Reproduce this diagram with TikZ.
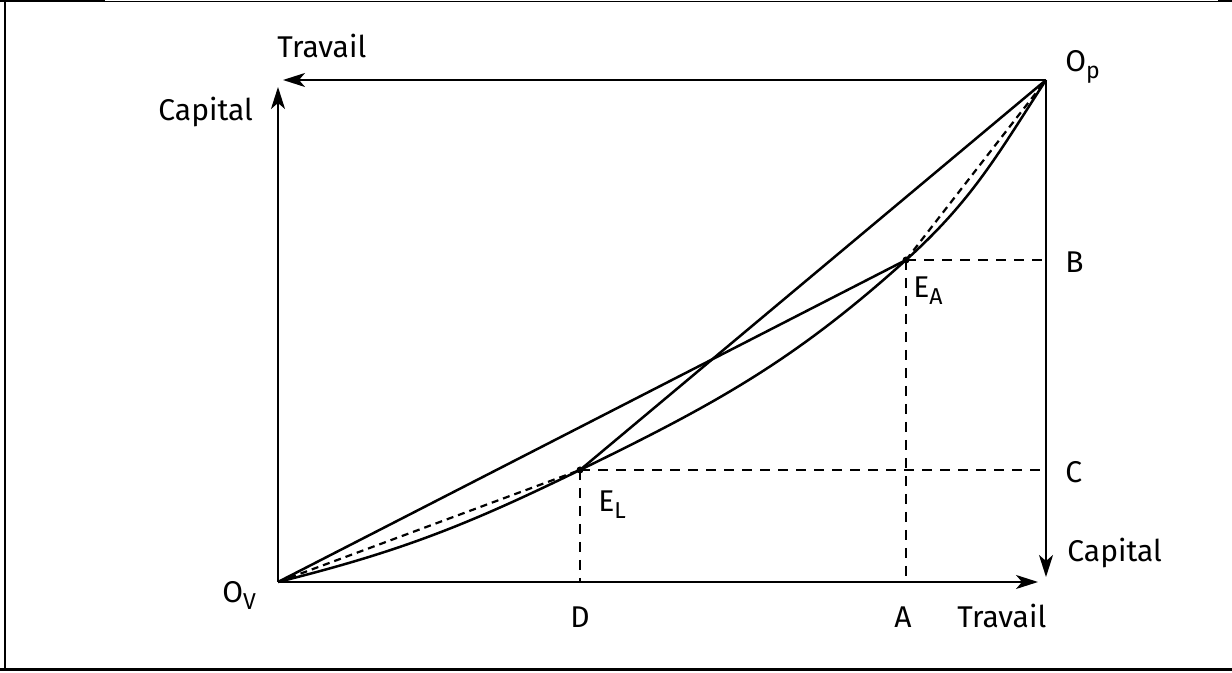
\documentclass[tikz,border=0pt]{standalone}
\usepackage{fontspec}
\setmainfont{Fira Sans}
\usetikzlibrary{arrows.meta}
\newcommand{\mysub}[1]{\raisebox{-0.4ex}{\fontsize{11.5}{11.5}\selectfont #1}}
\begin{document}
\begin{tikzpicture}[x=0.5pt,y=0.5pt,
  axis/.style={line width=1pt,-{Stealth[length=11pt,width=7pt,inset=3pt]}},
  curveline/.style={line width=1.25pt},
  guide/.style={line width=0.9pt,dash pattern=on 5pt off 4pt},
  chord/.style={line width=1.1pt,dash pattern=on 3.5pt off 2.5pt},
  dot/.style={circle,fill=black,inner sep=0pt,minimum size=3.5pt},
  lbl/.style={font=\fontsize{15}{18}\selectfont,inner sep=0pt}]
\useasboundingbox (0,0) rectangle (1232,673);
% frame
\draw[line width=1pt] (5,673) -- (5,2);
\draw[line width=0.5pt] (0,671.5) -- (1232,671.5);
\draw[line width=1.5pt] (0,672.2) -- (105,672.2);
\draw[line width=1.5pt] (1218,672.2) -- (1232,672.2);
\draw[line width=1.5pt] (0,3) -- (1232,3);
% points
\coordinate (Ov) at (278,91);
\coordinate (Op) at (1046,593);
\coordinate (EA) at (906,413);
\coordinate (EL) at (580,203);
\coordinate (B) at (1046,413);
\coordinate (C) at (1046,203);
\coordinate (A) at (906,91);
\coordinate (D) at (580,91);
\coordinate (xT) at (1038,91);
\coordinate (yR) at (1046,96);
\coordinate (xTop) at (283,593);
\coordinate (yL) at (278,586);
% axes
\draw[axis] (Ov) -- (xT);
\draw[axis] (Ov) -- (yL);
\draw[axis] (Op) -- (xTop);
\draw[axis] (Op) -- (yR);
% guides
\draw[guide] (EA) -- (B);
\draw[guide] (EA) -- (A);
\draw[guide] (EL) -- (C);
\draw[guide] (EL) -- (D);
% lines
\draw[curveline] (Ov) -- (EA);
\draw[curveline] (EL) -- (Op);
\draw[curveline] (Ov) to[out=14,in=206] (EL) to[out=26,in=222] (EA) to[out=42,in=237] (Op);
\draw[chord] (Ov) -- (EL);
\draw[chord] (EA) -- (Op);
\node[dot] (dA) at (EA) {};
\node[dot] (dL) at (EL) {};
% labels
\node[lbl,anchor=base west] (tTop) at (277,615) {Travail};
\node[lbl,anchor=base west] (cLeft) at (158,552) {Capital};
\node[lbl,anchor=base west] (lOp) at (1065,601) {O\mysub{p}};
\node[lbl,anchor=base west] (lB) at (1065,400) {B};
\node[lbl,anchor=base west] (lC) at (1065,190) {C};
\node[lbl,anchor=base west] (cRight) at (1067,111) {Capital};
\node[lbl,anchor=base west] (tBot) at (957,45) {Travail};
\node[lbl,anchor=base] (lA) at (903,45) {A};
\node[lbl,anchor=base] (lD) at (580,45) {D};
\node[lbl,anchor=base west] (lOv) at (222,70) {O\mysub{V}};
\node[lbl,anchor=base west] (lEA) at (913,375) {E\mysub{A}};
\node[lbl,anchor=base west] (lEL) at (598,161) {E\mysub{L}};
\end{tikzpicture}
\end{document}
